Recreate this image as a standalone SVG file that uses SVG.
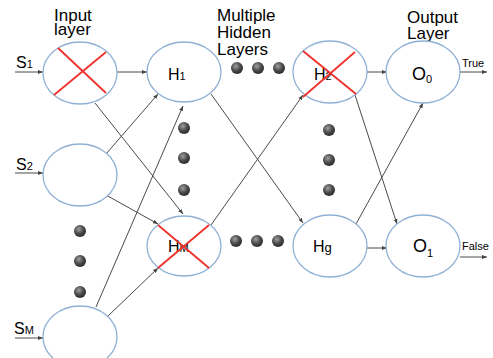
<svg xmlns="http://www.w3.org/2000/svg" width="493" height="358" viewBox="0 0 493 358">
<defs>
<marker id="ah" viewBox="0 0 10 10" refX="10" refY="5" markerWidth="5" markerHeight="5" orient="auto" markerUnits="userSpaceOnUse"><path d="M0,1 L10,5 L0,9 z" fill="#444"/></marker>
<radialGradient id="ball" cx="0.4" cy="0.35" r="0.7"><stop offset="0" stop-color="#a0a0a0"/><stop offset="0.55" stop-color="#4a4a4a"/><stop offset="1" stop-color="#262626"/></radialGradient>
<style>
.node{fill:#fff;stroke:#8fb1d6;stroke-width:1.3}
.x{stroke:#f0302a;stroke-width:1.8}
.c{stroke:#4a4a4a;stroke-width:1;fill:none;marker-end:url(#ah)}
text{font-family:"Liberation Sans",Arial,sans-serif;fill:#000}
.t{font-size:17px}
.lbl{font-size:16px}
.big{font-size:18px}
.sub{font-size:11px}
.small{font-size:11px}
.dot{fill:url(#ball)}
</style>
</defs>
<rect width="493" height="358" fill="#fff"/>

<g id="titles">
<text class="t" x="54" y="21">Input</text>
<text class="t" x="54" y="35">layer</text>
<text class="t" x="217" y="21">Multiple</text>
<text class="t" x="217" y="38">Hidden</text>
<text class="t" x="217" y="55">Layers</text>
<text class="t" x="407" y="23">Output</text>
<text class="t" x="407" y="39">Layer</text>
</g>

<g id="connectors">
<line class="c" x1="15" y1="72" x2="43" y2="72"/>
<line class="c" x1="15" y1="173" x2="43" y2="173"/>
<line class="c" x1="15" y1="338" x2="43" y2="338"/>
<line class="c" x1="117" y1="72" x2="147" y2="72"/>
<line class="c" x1="95" y1="103" x2="183" y2="214"/>
<line class="c" x1="106" y1="154" x2="158" y2="94"/>
<line class="c" x1="106" y1="195" x2="158" y2="224"/>
<line class="c" x1="96" y1="307" x2="183" y2="106"/>
<line class="c" x1="107" y1="317" x2="158" y2="268"/>
<line class="c" x1="211" y1="94" x2="303" y2="223"/>
<line class="c" x1="211" y1="225" x2="303" y2="95"/>
<line class="c" x1="366" y1="72" x2="387" y2="72"/>
<line class="c" x1="355" y1="95" x2="397" y2="224"/>
<line class="c" x1="356" y1="224" x2="423" y2="103"/>
<line class="c" x1="366" y1="248" x2="387" y2="248"/>
<line class="c" x1="460" y1="72" x2="487" y2="72"/>
<line class="c" x1="460" y1="257" x2="487" y2="257"/>
</g>

<g id="inputLabels">
<text class="lbl" x="16" y="68">S<tspan class="sub">1</tspan></text>
<text class="lbl" x="16" y="170">S<tspan class="sub">2</tspan></text>
<text class="lbl" x="14" y="334">S<tspan class="sub">M</tspan></text>
</g>

<g id="S1">
<ellipse class="node" cx="80" cy="73" rx="37" ry="31"/>
<line class="x" x1="58" y1="48" x2="106" y2="93"/>
<line class="x" x1="106" y1="52" x2="54" y2="95"/>
</g>
<g id="S2"><ellipse class="node" cx="80" cy="175" rx="37" ry="31"/></g>
<g id="SM"><ellipse class="node" cx="80" cy="337" rx="37" ry="31"/></g>

<g id="H1">
<ellipse class="node" cx="184" cy="72" rx="37" ry="30"/>
<text class="lbl" x="168" y="80">H<tspan class="sub">1</tspan></text>
</g>
<g id="HM">
<ellipse class="node" cx="184" cy="246" rx="37" ry="30"/>
<text class="lbl" x="168" y="252">H<tspan class="sub">M</tspan></text>
<line class="x" x1="158" y1="225" x2="209" y2="268"/>
<line class="x" x1="209" y1="225" x2="158" y2="268"/>
</g>
<g id="H2">
<ellipse class="node" cx="330" cy="72" rx="37" ry="31"/>
<text class="lbl" x="314" y="80">H<tspan class="sub">2</tspan></text>
<line class="x" x1="303" y1="51" x2="356" y2="94"/>
<line class="x" x1="355" y1="52" x2="303" y2="97"/>
</g>
<g id="Hg">
<ellipse class="node" cx="330" cy="246" rx="37" ry="31"/>
<text class="lbl" x="313" y="252">H<tspan font-size="13px">g</tspan></text>
</g>
<g id="O0">
<ellipse class="node" cx="423" cy="72" rx="37" ry="31"/>
<text class="big" x="412" y="80">O<tspan class="sub" dy="3">0</tspan></text>
<text class="small" x="462" y="67">True</text>
</g>
<g id="O1">
<ellipse class="node" cx="423" cy="246" rx="37" ry="31"/>
<text class="big" x="413" y="252">O<tspan class="sub" dy="5">1</tspan></text>
<text class="small" x="462" y="250">False</text>
</g>

<g id="dots">
<circle class="dot" cx="237" cy="68" r="6"/>
<circle class="dot" cx="258" cy="68" r="6"/>
<circle class="dot" cx="279" cy="68" r="6"/>
<circle class="dot" cx="236" cy="241" r="6"/>
<circle class="dot" cx="257" cy="241" r="6"/>
<circle class="dot" cx="278" cy="241" r="6"/>
<circle class="dot" cx="184" cy="128" r="6"/>
<circle class="dot" cx="184" cy="158" r="6"/>
<circle class="dot" cx="184" cy="190" r="6"/>
<circle class="dot" cx="329" cy="130" r="6"/>
<circle class="dot" cx="329" cy="160" r="6"/>
<circle class="dot" cx="329" cy="190" r="6"/>
<circle class="dot" cx="80" cy="231" r="6"/>
<circle class="dot" cx="80" cy="261" r="6"/>
<circle class="dot" cx="80" cy="292" r="6"/>
</g>
</svg>
